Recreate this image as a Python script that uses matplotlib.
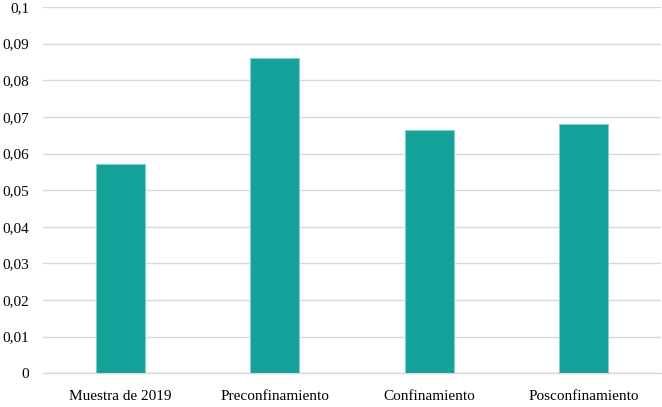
import matplotlib
matplotlib.use("Agg")
import matplotlib.pyplot as plt
from matplotlib.ticker import FuncFormatter, MultipleLocator

categories = ["Muestra de 2019", "Preconfinamiento", "Confinamiento", "Posconfinamiento"]
values = [0.0572, 0.0862, 0.0663, 0.0680]

plt.rcParams['font.family'] = ['Liberation Serif', 'DejaVu Serif']

fig = plt.figure(figsize=(6.62, 4.07), dpi=100)
ax = fig.add_axes([43 / 662, 1 - 373.3 / 407, 618 / 662, (373.3 - 7) / 407])

ax.bar(categories, values, width=0.32, color="#13a19a", edgecolor="#7fcfca", linewidth=0.8, zorder=3)

ax.set_ylim(0, 0.1)
ax.set_xlim(-0.5, 3.5)
ax.yaxis.set_major_locator(MultipleLocator(0.01))


def comma_fmt(x, pos):
    # spanish style decimals: 0,05
    if abs(x) < 1e-9:
        return "0"
    return ("%.2f" % x).rstrip("0").replace(".", ",")


ax.yaxis.set_major_formatter(FuncFormatter(comma_fmt))
ax.grid(axis="y", color="#d9d9d9", linewidth=1, zorder=0)
for s in ["top", "right", "left"]:
    ax.spines[s].set_visible(False)
ax.spines["bottom"].set_color("#d9d9d9")
ax.spines["bottom"].set_linewidth(1)
ax.tick_params(axis="both", length=0, labelsize=11, colors="#000000")
ax.tick_params(axis="y", pad=10)
ax.tick_params(axis="x", pad=12)

plt.savefig("out.png", dpi=100)
plt.close("all")
